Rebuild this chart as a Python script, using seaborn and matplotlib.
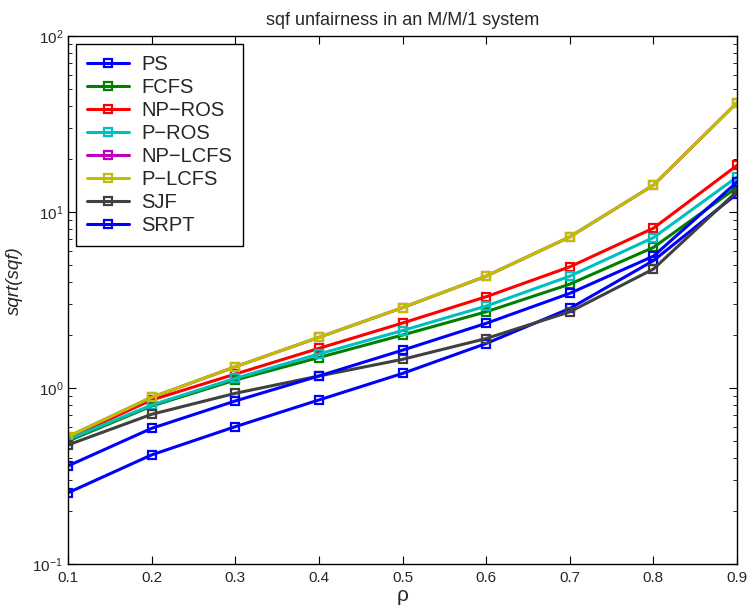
import numpy as np
import pandas as pd
import matplotlib
matplotlib.use("Agg")
import matplotlib.pyplot as plt
import seaborn as sns

rho = [0.1, 0.2, 0.3, 0.4, 0.5, 0.6, 0.7, 0.8, 0.9]

ps = [0.254, 0.417, 0.603, 0.855, 1.21, 1.79, 2.83, 5.29, 12.7]
fcfs = [0.50, 0.79, 1.11, 1.49, 2.00, 2.71, 3.89, 6.29, 13.8]
np_ros = [0.52, 0.855, 1.20, 1.68, 2.34, 3.30, 4.88, 8.09, 18.4]
p_ros = [0.51, 0.80, 1.135, 1.56, 2.12, 2.92, 4.32, 7.15, 15.8]
np_lcfs = [0.529, 0.885, 1.32, 1.94, 2.86, 4.32, 7.22, 14.2, 41.8]
p_lcfs = [0.529, 0.885, 1.32, 1.94, 2.86, 4.32, 7.22, 14.2, 41.8]
sjf = [0.475, 0.709, 0.933, 1.17, 1.455, 1.91, 2.71, 4.74, 13.1]
srpt = [0.361, 0.59, 0.844, 1.17, 1.64, 2.33, 3.45, 5.61, 14.8]

names = ["PS", "FCFS", "NP\u2212ROS", "P\u2212ROS", "NP\u2212LCFS", "P\u2212LCFS", "SJF", "SRPT"]
series = [ps, fcfs, np_ros, p_ros, np_lcfs, p_lcfs, sjf, srpt]
colors = ["#0000ff", "#008000", "#ff0000", "#00bfbf", "#bf00bf", "#bfbf00", "#404040", "#0000ff"]

df = pd.DataFrame({
    "rho": rho * len(names),
    "value": np.concatenate(series),
    "policy": np.repeat(names, len(rho)),
})

sns.set_style("ticks")
plt.rcParams["font.family"] = ["Liberation Sans", "DejaVu Sans"]

fig = plt.figure(figsize=(7.5, 6.14), dpi=100)
ax = fig.add_axes([0.0907, 0.0814, 0.892, 0.86])

for name, col in zip(names, colors):
    sub = df[df["policy"] == name]
    sns.lineplot(data=sub, x="rho", y="value", ax=ax, color=col, lw=2.2,
                 marker="s", markersize=6, markerfacecolor="none",
                 markeredgecolor=col, markeredgewidth=1.6, label=name)

ax.set_yscale("log")
ax.set_xlim(0.1, 0.9)
ax.set_ylim(0.1, 100)
ax.set_xticks(rho)
ax.set_xticklabels([f"{r:.1f}" for r in rho])
ax.tick_params(which="both", direction="in", top=True, right=True, labelsize=11, color="black")
ax.tick_params(axis="x", pad=5)
ax.tick_params(which="major", length=6)
ax.tick_params(which="minor", length=3)
for s in ax.spines.values():
    s.set_color("black")
    s.set_linewidth(1.0)

ax.set_title("sqf unfairness in an M/M/1 system", fontsize=13, pad=8)
ax.set_xlabel("\u03c1", fontsize=15, labelpad=1)
ax.set_ylabel("sqrt(sqf)", fontsize=13.5, style="italic")
ax.yaxis.set_label_coords(-0.068, 0.536)

leg = ax.legend(loc="upper left", fontsize=14.5, frameon=True, fancybox=False,
                edgecolor="black", framealpha=1, handlelength=2.1, handletextpad=0.6,
                borderaxespad=0.4, labelspacing=0.2, borderpad=0.55)
leg.get_frame().set_linewidth(1.0)

fig.savefig("out.png", dpi=100)
